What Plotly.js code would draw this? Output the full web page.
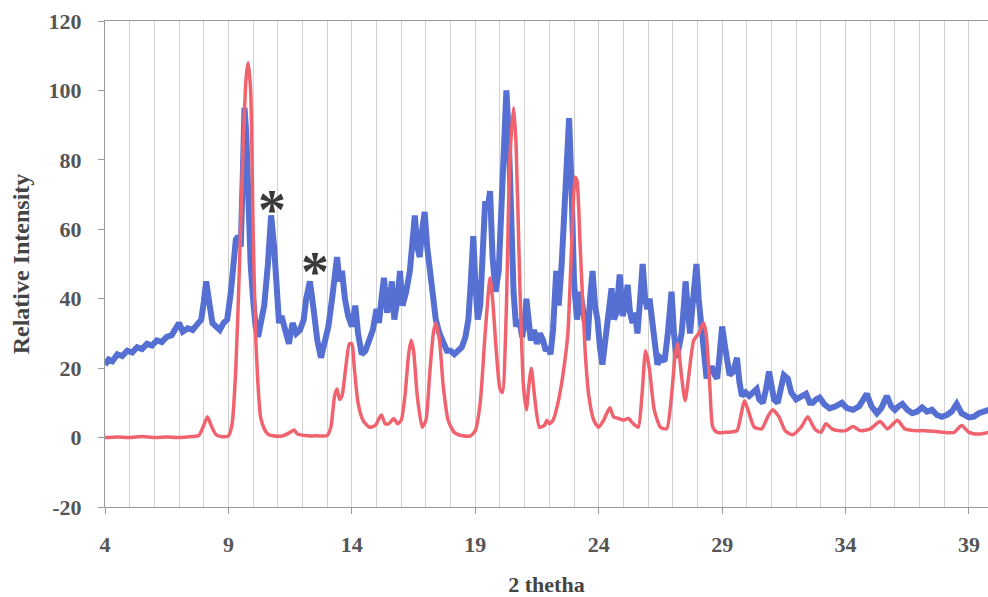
<!DOCTYPE html>
<html>
<head>
<meta charset="utf-8">
<script src="https://cdn.plot.ly/plotly-3.0.1.min.js"></script>
<style>html,body{margin:0;padding:0;background:#fff;}#chart{width:988px;height:597px;}</style>
</head>
<body>
<div id="chart"></div>
<script>
// Blue pattern (2 theta, relative intensity)
const blueX = [4.0,4.15,4.3,4.5,4.7,4.9,5.1,5.3,5.5,5.7,5.9,6.1,6.3,6.5,6.7,6.85,7.0,7.15,7.35,7.55,7.75,7.9,8.0,8.1,8.2,8.35,8.5,8.65,8.8,8.95,9.1,9.2,9.3,9.4,9.5,9.58,9.65,9.72,9.8,9.9,10.0,10.1,10.2,10.3,10.45,10.6,10.73,10.85,10.95,11.05,11.15,11.3,11.45,11.6,11.75,11.9,12.05,12.15,12.3,12.45,12.6,12.75,12.9,13.05,13.2,13.3,13.4,13.5,13.6,13.72,13.85,14.0,14.14,14.25,14.4,14.55,14.7,14.85,15.0,15.1,15.2,15.3,15.43,15.55,15.62,15.72,15.85,15.95,16.05,16.2,16.35,16.45,16.55,16.65,16.75,16.85,16.95,17.05,17.15,17.28,17.4,17.55,17.7,17.85,18.0,18.15,18.3,18.45,18.6,18.72,18.82,18.92,19.0,19.1,19.2,19.3,19.4,19.5,19.6,19.7,19.82,19.95,20.05,20.15,20.26,20.35,20.45,20.55,20.65,20.78,20.9,21.0,21.07,21.15,21.25,21.38,21.5,21.62,21.75,21.85,21.95,22.05,22.15,22.28,22.38,22.5,22.6,22.7,22.8,22.9,23.0,23.12,23.25,23.34,23.45,23.55,23.65,23.75,23.85,23.95,24.05,24.15,24.3,24.45,24.52,24.62,24.72,24.85,24.97,25.07,25.17,25.27,25.37,25.47,25.57,25.68,25.78,25.88,25.97,26.06,26.14,26.25,26.38,26.5,26.67,26.8,26.95,27.05,27.15,27.25,27.36,27.45,27.52,27.62,27.7,27.8,27.88,27.96,28.05,28.15,28.27,28.37,28.48,28.6,28.7,28.8,28.9,29.0,29.1,29.2,29.3,29.45,29.6,29.7,29.8,29.95,30.1,30.25,30.4,30.5,30.65,30.78,30.9,31.0,31.1,31.25,31.38,31.5,31.66,31.8,32.0,32.2,32.4,32.55,32.67,32.8,32.95,33.15,33.36,33.6,33.85,34.05,34.3,34.55,34.86,35.05,35.27,35.45,35.67,35.85,36.0,36.15,36.3,36.5,36.7,36.9,37.1,37.3,37.5,37.7,37.9,38.1,38.3,38.5,38.7,39.0,39.2,39.4,39.6,39.8];
const blueY = [21,22.5,22,24,23.5,25,24.5,26,25.5,27,26.5,28,27.5,29,29.5,31,33,30.5,31.5,31,32.5,34,39,45,40,33,32,31,33,34,42,50,57,58,55,75,95,88,65,50,40,32,29,32,38,50,64,55,40,33,35,30,27,33,30,31,34,40,45,37,28,23,27,32,40,46,52,45,48,40,35,32,38,30,24,25,28,31,37,33,40,46,36,40,45,34,40,48,38,42,48,56,64,55,52,60,65,55,48,40,34,30,27,25,25,24,25,26,29,34,45,58,45,34,38,55,68,66,71,52,42,48,65,85,100,88,62,42,32,34,29,33,40,32,28,31,27,30,28,25,26,24,31,48,38,50,65,82,92,72,45,34,42,38,31,28,40,48,38,34,26,21,30,38,43,34,36,47,35,38,44,36,33,36,30,40,50,40,37,40,36,28,21,23,22,30,42,30,23,26,30,38,45,36,30,38,45,50,40,32,22,17,20,20,18,17,24,32,27,22,18,19,23,16,12,13,12,13,14,11,10,14,19,15,11,10,14,18,17,13,11,12,12.6,10,10,11,11.5,9.5,8.4,9,10,8.5,8,9,12.6,9,7,8.5,12,9,8,9,9.7,8,7,7.5,8.7,7.5,8,6.5,6,6.5,7.5,9.7,7,5.8,6,7,7.5,8];

// Red pattern (2 theta, relative intensity)
const redX = [4,4.5,5,5.5,6,6.5,7,7.5,7.8,8.0,8.15,8.3,8.5,8.7,9.0,9.15,9.3,9.45,9.6,9.72,9.8,9.9,10.0,10.1,10.2,10.3,10.45,10.6,10.8,11.2,11.5,11.66,11.8,12.2,12.6,13.0,13.15,13.3,13.4,13.5,13.6,13.75,13.9,14.0,14.1,14.25,14.45,14.7,14.95,15.1,15.2,15.35,15.5,15.7,15.85,16.0,16.15,16.3,16.4,16.5,16.65,16.85,17.0,17.15,17.3,17.4,17.55,17.7,17.9,18.15,18.5,18.8,19.0,19.2,19.4,19.6,19.7,19.85,20.0,20.1,20.25,20.4,20.55,20.65,20.8,20.95,21.07,21.17,21.27,21.4,21.6,21.8,21.9,22.0,22.15,22.35,22.55,22.75,22.9,23.05,23.12,23.25,23.45,23.6,23.8,24.0,24.2,24.45,24.6,24.8,25.0,25.2,25.4,25.6,25.75,25.9,26.05,26.25,26.5,26.75,26.95,27.1,27.2,27.35,27.5,27.65,27.85,28.05,28.25,28.35,28.5,28.62,28.8,29.2,29.6,29.75,29.9,30.05,30.3,30.6,30.85,31.05,31.3,31.55,31.85,32.2,32.47,32.75,33.0,33.2,33.45,33.7,34.0,34.3,34.6,35.0,35.4,35.7,36.1,36.4,36.8,37.2,37.6,38.0,38.4,38.7,39.0,39.4,39.8];
const redY = [0,0.2,0,0.3,0,0.2,0,0.3,0.6,3.5,6,3.5,0.8,0.3,0.5,4,20,50,85,104,108,100,60,30,15,6,2.5,1,0.5,0.5,1.5,2.2,1,0.5,0.5,0.6,3,12,14,11,12,20,27,27,20,10,5,3,3.5,5.5,6.5,4,4,5.5,4,5,12,24,28,25,12,3,5,18,30,33,28,15,5,1.5,0.5,0.5,2,10,30,46,40,25,14,13,35,80,95,85,45,15,8,15,20,12,3,3.5,5,4,5,10,18,30,55,75,74,55,25,12,5,3,5,8.6,6,5.5,5,5.5,4,3,12,25,20,8,3,2.5,12,24,27,18,10.6,18,28,30,33,30,15,3,1.5,1.5,2,6,10.6,8,3,2.5,6,8,6,2,0.8,3,6,2.5,1.5,4,2.5,2,2,3.2,2,2.5,4.6,2.5,5,2.5,2,2,1.8,1.5,1.5,3.5,1.5,1,1.5];

// Tick labels
const xTicks = [4,9,14,19,24,29,34,39];
const yTicks = [-20,0,20,40,60,80,100,120];

// Marked peaks (asterisks)
const starX = [10.77, 12.52];
const starY = [67.7, 49.6];

const serif = "'Liberation Serif', 'Times New Roman', serif";

const traces = [
  {x: blueX, y: blueY, type: 'scatter', mode: 'lines',
   line: {color: '#5570d2', width: 6, shape: 'linear'}, hoverinfo: 'skip'},
  {x: redX, y: redY, type: 'scatter', mode: 'lines',
   line: {color: '#f0636e', width: 3.5, shape: 'spline', smoothing: 0.6}, hoverinfo: 'skip'}
];

const annotations = starX.map((x, i) => ({
  x: x, y: starY[i], xref: 'x', yref: 'y', text: '*', showarrow: false,
  font: {family: serif, size: 56, color: '#3a3a3a', weight: 'bold'},
  yanchor: 'middle', yshift: -7
}));

const layout = {
  width: 988, height: 597,
  margin: {l: 105, r: 0, t: 21, b: 90, pad: 0},
  paper_bgcolor: '#ffffff', plot_bgcolor: '#ffffff',
  showlegend: false,
  font: {family: serif, color: '#555'},
  xaxis: {
    range: [4, 39.77], tickmode: 'array', tickvals: xTicks, ticktext: xTicks.map(String),
    showgrid: true, gridcolor: '#cfcfcf', gridwidth: 1,
    minor: {dtick: 1, tick0: 4, showgrid: true, gridcolor: '#d2d2d2', gridwidth: 1, ticks: ''},
    showline: true, linecolor: '#9a9a9a', linewidth: 1, mirror: true,
    ticks: 'outside', ticklen: 6, tickcolor: '#9a9a9a', ticklabelstandoff: 12,
    zeroline: false,
    tickfont: {family: serif, size: 22, color: '#555', weight: 'bold'},
    title: {text: '2 thetha', font: {family: serif, size: 22, color: '#444', weight: 'bold'}, standoff: 26}
  },
  yaxis: {
    range: [-20, 120], tickmode: 'array', tickvals: yTicks, ticktext: yTicks.map(String),
    showgrid: false, zeroline: false,
    showline: true, linecolor: '#9a9a9a', linewidth: 1,
    ticks: 'outside', ticklen: 6, tickcolor: '#9a9a9a', ticklabelstandoff: 12,
    tickfont: {family: serif, size: 22, color: '#555', weight: 'bold'},
    title: {text: 'Relative Intensity', font: {family: serif, size: 24, color: '#444', weight: 'bold'}, standoff: 12}
  },
  annotations: annotations
};

Plotly.newPlot('chart', traces, layout, {staticPlot: true, displayModeBar: false});
</script>
</body>
</html>
